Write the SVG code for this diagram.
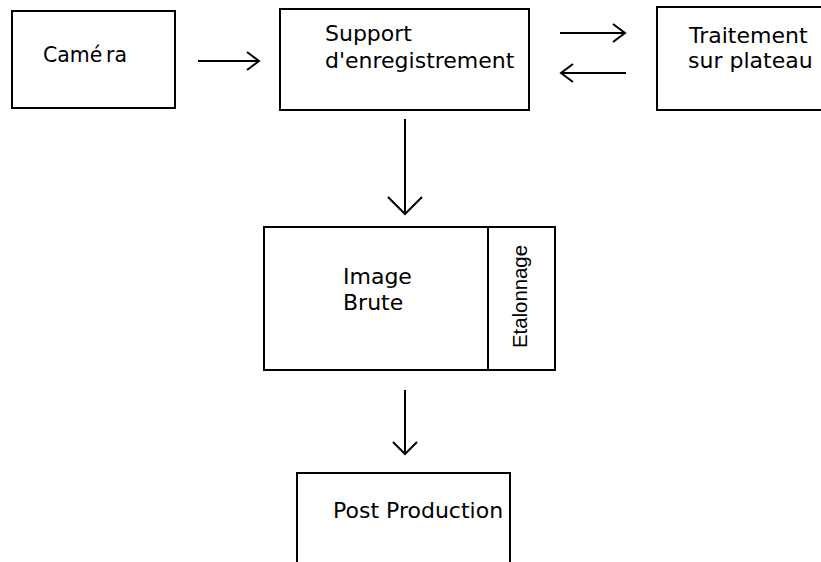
<svg xmlns="http://www.w3.org/2000/svg" width="821" height="562" viewBox="0 0 821 562">
  <style>
    .box { fill: #fff; stroke: #000; stroke-width: 2; }
    .lbl { font-family: "DejaVu Sans", Verdana, sans-serif; font-size: 22px; fill: #000; }
    .arr { fill: none; stroke: #000; stroke-width: 2; }
  </style>
  <rect width="821" height="562" fill="#fff"/>

  <g id="camera">
    <rect class="box" x="12" y="11" width="163" height="97"/>
    <text class="lbl" x="43" y="62" textLength="84" lengthAdjust="spacingAndGlyphs">Camé<tspan dx="4">ra</tspan></text>
  </g>

  <g id="support">
    <rect class="box" x="280" y="9" width="249" height="101"/>
    <text class="lbl" x="325" y="41">Support</text>
    <text class="lbl" x="325" y="68">d'enregistrement</text>
  </g>

  <g id="traitement">
    <rect class="box" x="657" y="7" width="180" height="103"/>
    <text class="lbl" x="689" y="43">Traitement</text>
    <text class="lbl" x="688" y="68">sur plateau</text>
  </g>

  <g id="image">
    <rect class="box" x="264" y="227" width="291" height="143"/>
    <line class="arr" x1="488" y1="227" x2="488" y2="370"/>
    <text class="lbl" x="343" y="284">Image</text>
    <text class="lbl" x="343" y="310">Brute</text>
    <text transform="translate(527 348) rotate(-90)" font-family="'Liberation Sans', Arial, sans-serif" font-size="21" textLength="103" lengthAdjust="spacingAndGlyphs">Etalonnage</text>
  </g>

  <g id="post">
    <rect class="box" x="297" y="473" width="213" height="100"/>
    <text class="lbl" x="333" y="518">Post Production</text>
  </g>

  <g id="connectors">
    <path class="arr" d="M198 61 H259 M247 52 L259 61 L247 70"/>
    <path class="arr" d="M560 33 H625 M613 24 L625 33 L613 42"/>
    <path class="arr" d="M626 73 H561 M573 64 L561 73 L573 82"/>
    <path class="arr" d="M405 119 V214 M388 197 L405 214 L422 197"/>
    <path class="arr" d="M405 390 V454 M393 442 L405 454 L417 442"/>
  </g>
</svg>
